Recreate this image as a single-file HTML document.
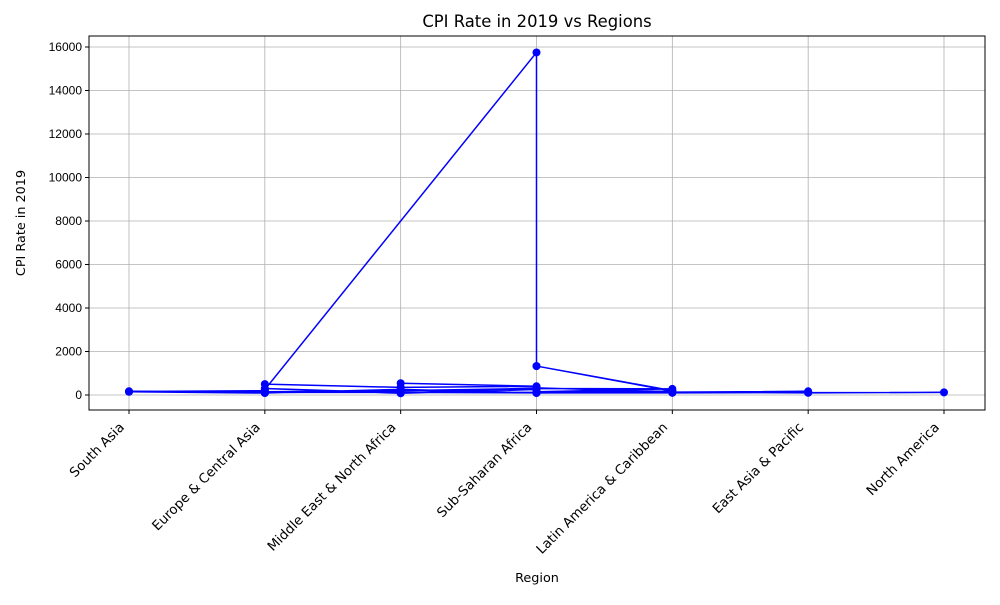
<!DOCTYPE html>
<html><head><meta charset="utf-8"><style>
body{margin:0;background:#fff;font-family:"Liberation Sans","DejaVu Sans",sans-serif;}
</style></head><body>
<svg id="chart" width="1000" height="600" xmlns="http://www.w3.org/2000/svg">
<rect width="1000" height="600" fill="#fff"/>
<text x="537" y="27" font-size="16.4" font-family="DejaVu Sans, sans-serif" text-anchor="middle">CPI Rate in 2019 vs Regions</text>
<g id="grid"></g>
<g id="series"></g>
<rect x="89" y="36" width="896" height="374" fill="none" stroke="#000" stroke-width="1"/>
<g id="axes" font-size="12"></g>
<text x="537" y="582" font-size="12.8" font-family="DejaVu Sans, sans-serif" text-anchor="middle">Region</text>
<text transform="translate(25,223) rotate(-90)" font-size="12.8" font-family="DejaVu Sans, sans-serif" text-anchor="middle">CPI Rate in 2019</text>
</svg>
<script>
const categories=["South Asia","Europe & Central Asia","Middle East & North Africa","Sub-Saharan Africa","Latin America & Caribbean","East Asia & Pacific","North America"];
const yTicks=[0,2000,4000,6000,8000,10000,12000,14000,16000];
const pointRegions=[0,1,0,1,1,2,3,2,2,1,1,3,3,4,3,4,3,4,3,2,1,3,4,5,4,5,6,5,4,3,2,1,0,1,2,3,2,1,2,3,4,3,2,1];
const pointValues=[170,120,160,200,500,350,400,540,150,110,250,15750,1330,200,1330,180,150,280,300,200,150,120,110,170,130,100,120,110,100,100,120,130,150,90,220,250,80,300,100,330,150,90,260,100];
const NS="http://www.w3.org/2000/svg";
const L=89,R=985,T=36,B=410;
function xPos(i){return 129+i*(944-129)/(categories.length-1);}
function yPos(v){return 395-v*(395-47)/16000;}
const grid=document.getElementById('grid'),axes=document.getElementById('axes'),series=document.getElementById('series');
function mk(tag,attrs,parent){const e=document.createElementNS(NS,tag);for(const k in attrs)e.setAttribute(k,attrs[k]);parent.appendChild(e);return e;}
categories.forEach((c,i)=>{
  const x=xPos(i);
  const g=mk('line',{x1:x,x2:x,y1:T,y2:B,stroke:'#b0b0b0','stroke-width':0.8},grid);
  
  
  const t=mk('line',{x1:x,x2:x,y1:B,y2:B+4,stroke:'#000'},axes);
  
  
  const ax=x-4,ay=B+18;
  const lb=mk('text',{x:ax,y:ay,'text-anchor':'end','font-family':'DejaVu Sans, sans-serif','font-size':13.3,transform:`rotate(-45 ${ax} ${ay})`},axes);
  lb.textContent=c;
  
  
});
yTicks.forEach(v=>{
  const y=yPos(v);
  const g=mk('line',{x1:L,x2:R,y1:y,y2:y,stroke:'#b0b0b0','stroke-width':0.8},grid);
  
  
  const t=mk('line',{x1:L-4,x2:L,y1:y,y2:y,stroke:'#000'},axes);
  
  
  const lb=mk('text',{x:L-7,y:y+4,'text-anchor':'end'},axes);
  lb.textContent=v;
  
  
});
const pts=pointValues.map((v,i)=>xPos(pointRegions[i])+','+yPos(v)).join(' ');
const pl=mk('polyline',{points:pts,fill:'none',stroke:'#0000ff','stroke-width':1.5,'stroke-linejoin':'round'},series);


pointValues.forEach((v,i)=>{
  const c=mk('circle',{cx:xPos(pointRegions[i]),cy:yPos(v),r:4,fill:'#0000ff'},series);
  
  
});
</script>
</body></html>
